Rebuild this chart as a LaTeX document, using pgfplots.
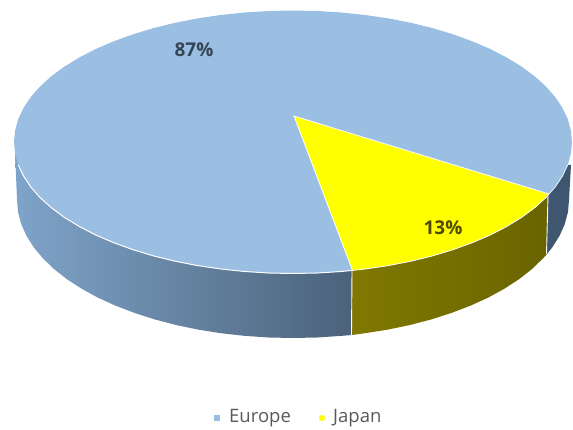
\documentclass[border=0pt]{standalone}
\usepackage{fontspec}
\setmainfont{Open Sans}
\usepackage{pgfplots}
\pgfplotsset{compat=1.18}
\definecolor{topblue}{HTML}{9ABFE2}
\definecolor{pieyellow}{HTML}{FFFF00}
\definecolor{sideA}{HTML}{7FA4C9}
\definecolor{sideB}{HTML}{6D8FAF}
\definecolor{sideC}{HTML}{4B627A}
\definecolor{oliveA}{HTML}{807800}
\definecolor{oliveB}{HTML}{6A6400}
\definecolor{sideD}{HTML}{3E5670}
\definecolor{legtext}{HTML}{595959}
\begin{document}
\begin{tikzpicture}
\useasboundingbox (0,0) rectangle (573pt,430pt);
\begin{axis}[
    scale only axis, width=573pt, height=430pt,
    xmin=0, xmax=573, ymin=0, ymax=430, y dir=reverse,
    hide axis,
]
    % side wall, Europe part
    \addplot[draw=none, left color=sideA, middle color=sideB, right color=sideC] coordinates {
        (15,150) (17,200) (18,212) (21.2,224) (26.4,235.7) (33.6,247.2) (42.9,258.3) (54,269)
        (66.9,279.2) (81.6,288.7) (97.8,297.6) (115.6,305.7) (134.7,313) (155,319.5)
        (176.4,325.1) (198.6,329.7) (221.6,333.3) (245.1,335.9) (268.9,337.5) (293,338)
        (317.1,337.5) (340.9,335.9) (352,335) (352,200) (15,150)
    } -- cycle;
    % side wall, Japan part
    \addplot[draw=none, left color=oliveA, right color=oliveB] coordinates {
        (352,335) (364.4,333.3) (387.4,329.7) (409.6,325.1) (431,319.5) (451.3,313)
        (470.4,305.7) (488.2,297.6) (504.4,288.7) (519.1,279.2) (532,269) (543.1,258.3)
        (547,254) (547,180) (352,200)
    } -- cycle;
    % side wall, Europe part behind the wedge
    \addplot[draw=none, fill=sideD] coordinates {
        (547,254) (552.4,247.2) (559.6,235.7) (564.8,224) (568,212) (569,200) (571,165) (547,165)
    } -- cycle;
    % top, Europe 87%
    \addplot[draw=none, fill=topblue] coordinates {
        (572,142) (570.9,130.5) (567.8,119.2) (562.5,108) (555.2,97) (545.9,86.4) (534.6,76.2)
        (521.6,66.6) (506.7,57.5) (490.3,49) (472.3,41.3) (453,34.3) (432.5,28.1) (410.9,22.8)
        (388.4,18.4) (365.2,15) (341.4,12.5) (317.3,11) (293,10.5)
        (268.7,11) (244.6,12.5) (220.8,15) (197.6,18.4) (175.1,22.8) (153.5,28.1) (133,34.3)
        (113.7,41.3) (95.7,49) (79.3,57.5) (64.4,66.6) (51.4,76.2) (40.1,86.4) (30.8,97)
        (23.5,108) (18.2,119.2) (15.1,130.5) (14,142)
        (15.1,153.5) (18.2,164.8) (23.5,176) (30.8,187) (40.1,197.6) (51.4,207.8) (64.4,217.4)
        (79.3,226.5) (95.7,235) (113.7,242.7) (133,249.7) (153.5,255.9) (175.1,261.2)
        (197.6,265.6) (220.8,269) (244.6,271.5) (268.7,273) (293,273.5)
        (317.3,273) (341.4,271.5) (365.2,269) (388.4,265.6) (410.9,261.2) (432.5,255.9)
        (453,249.7) (472.3,242.7) (490.3,235) (506.7,226.5) (521.6,217.4) (534.6,207.8)
        (545.9,197.6) (555.2,187) (562.5,176) (567.8,164.8) (570.9,153.5)
    } -- cycle;
    % top, Japan 13%
    \addplot[draw=white, line width=0.8pt, fill=pieyellow] coordinates {
        (294,116) (352.5,270.4) (365.2,269) (388.4,265.6) (410.9,261.2) (432.5,255.9)
        (453,249.7) (472.3,242.7) (490.3,235) (506.7,226.5) (521.6,217.4) (534.6,207.8)
        (545.9,197.6) (549,194)
    } -- cycle;
    % white rim and seams
    \addplot[draw=white, line width=1pt] coordinates {
        (18.2,164.8) (23.5,176) (30.8,187) (40.1,197.6) (51.4,207.8) (64.4,217.4)
        (79.3,226.5) (95.7,235) (113.7,242.7) (133,249.7) (153.5,255.9) (175.1,261.2)
        (197.6,265.6) (220.8,269) (244.6,271.5) (268.7,273) (293,273.5)
        (317.3,273) (341.4,271.5) (352.5,270.4)
    };
    \addplot[draw=white, line width=0.7pt] coordinates {
        (549,194) (555.2,187) (562.5,176) (567.8,164.8)
    };
    \addplot[draw=white, line width=0.9pt] coordinates {(352,271) (351.5,335)};
    \addplot[draw=white, line width=0.9pt] coordinates {(548,195) (546.5,254)};
    % legend markers
    \addplot[only marks, mark=square*, mark size=2.5pt, color=topblue] coordinates {(217,418)};
    \addplot[only marks, mark=*, mark size=2.8pt, color=pieyellow] coordinates {(322,418)};
    % labels
    \node[font=\fontsize{19}{22}\selectfont\bfseries, text=sideC!70!black] at (axis cs:194,50) {87\%};
    \node[font=\fontsize{19}{22}\selectfont\bfseries, text=oliveB!75!black] at (axis cs:443,228) {13\%};
    \node[font=\fontsize{18.5}{22}\selectfont, text=legtext, anchor=west, inner sep=0pt] at (axis cs:229,418) {Europe};
    \node[font=\fontsize{18.5}{22}\selectfont, text=legtext, anchor=west, inner sep=0pt] at (axis cs:333,418) {Japan};
\end{axis}
\end{tikzpicture}
\end{document}
